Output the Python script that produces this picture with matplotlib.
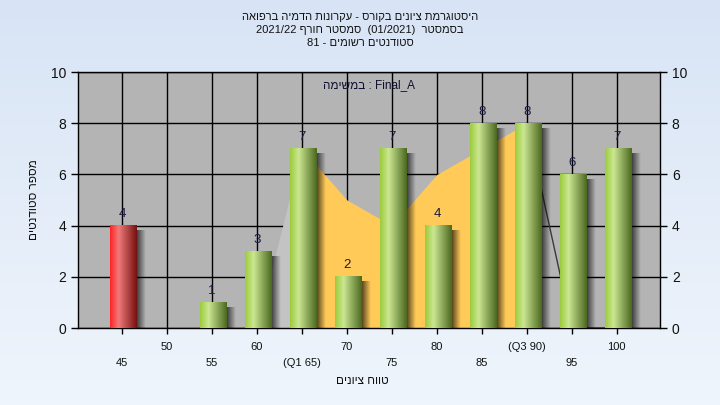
import re
import numpy as np
import matplotlib
matplotlib.use("Agg")
import matplotlib.pyplot as plt
from matplotlib.colors import to_rgb
from matplotlib.transforms import blended_transform_factory

plt.rcParams['font.family'] = ['Liberation Sans', 'DejaVu Sans']

# data
cats = [45, 50, 55, 60, 65, 70, 75, 80, 85, 90, 95, 100]
tick_labels = ['45', '50', '55', '60', '(Q1 65)', '70', '75', '80', '85', '(Q3 90)', '95', '100']
counts = [4, 0, 1, 3, 7, 2, 7, 4, 8, 8, 6, 7]
failed = [45]

lead_cats = [60, 65]
lead_vals = [0, 7]
band_cats = [65, 70, 75, 80, 85, 90]
band_vals = [7, 5, 4, 6, 7, 8]
tail_cats = [90, 95, 100]
tail_vals = [8, 0, 0]

title_lines = ["היסטוגרמת ציונים בקורס - עקרונות הדמיה ברפואה",
               "בסמסטר  (01/2021)  סמסטר חורף 2021/22",
               "סטודנטים רשומים - 81"]
task_text = "במשימה : Final_A"
xlabel = "טווח ציונים"
ylabel = "מספר סטודנטים"

TEXT = '#111111'
GREEN = ['#9ccb3c', '#cbe792', '#4b6820']
RED = ['#ff2424', '#f07a7a', '#761010']


def heb(s):
    # matplotlib has no bidi: flip each run of Hebrew words
    return re.sub(r'[\u0590-\u05FF]+(?:[ \-]+[\u0590-\u05FF]+)*', lambda m: m.group(0)[::-1], s)


def heb_rtl(s):
    # right-to-left line: flip everything, then put number/latin runs back
    return re.sub(r'[0-9A-Za-z_./()]+', lambda m: m.group(0)[::-1], s[::-1])


def cylinder(stops, n=64):
    t = np.linspace(0, 1, n)
    rgb = np.array([to_rgb(c) for c in stops])
    pos = [0, 0.32, 1]
    return np.stack([np.interp(t, pos, rgb[:, k]) for k in range(3)], axis=-1)[None, :, :]


fig = plt.figure(figsize=(7.2, 4.05), dpi=100)

# background gradient
bg = fig.add_axes([0, 0, 1, 1], zorder=-5)
top, bottom = np.array(to_rgb('#d8e4f5')), np.array(to_rgb('#eff5fc'))
grad = np.linspace(0, 1, 100)[:, None, None] * (bottom - top) + top
bg.imshow(grad, aspect='auto', extent=[0, 1, 0, 1], origin='upper')
bg.axis('off')

ax = fig.add_axes([78 / 720, 1 - 328 / 405, (660 - 78) / 720, (328 - 72) / 405])
ax.set_facecolor('#b4b4b4')
ax.set_axisbelow(True)
ax.grid(True, color='black', linewidth=1)

xpos = {c: i for i, c in enumerate(cats)}

ax.fill_between([xpos[c] for c in lead_cats], lead_vals, 0, color='#c3c3c3', linewidth=0, zorder=1)
ax.fill_between([xpos[c] for c in band_cats], band_vals, 0, color='#ffca58', linewidth=0, zorder=1.2)
ax.plot([xpos[c] for c in tail_cats], tail_vals, color='#3a3a3a', linewidth=1, zorder=1.3)

w = 0.6
green_img = cylinder(GREEN)
red_img = cylinder(RED)
shadow = np.zeros((1, 32, 4))
shadow[..., 3] = np.linspace(0.65, 0.0, 32)
for i, (c, v) in enumerate(zip(cats, counts)):
    if v == 0:
        continue
    x0 = i - w / 2 + 0.03
    img = red_img if c in failed else green_img
    ax.imshow(shadow, aspect='auto', extent=[x0 + w, x0 + w + 0.19, 0, v - 0.2], zorder=2)
    ax.imshow(img, aspect='auto', extent=[x0, x0 + w, 0, v], zorder=3)
    ax.text(i, v + 0.22, str(v), ha='center', va='bottom', fontsize=9.5, color='#1a1a40', zorder=4)

ax.set_xlim(-0.98, 11.96)
ax.set_ylim(0, 10)
ax.set_xticks(range(len(cats)))
ax.set_xticklabels([])
ax.set_yticks(range(0, 11, 2))
ax.tick_params(axis='y', left=True, right=True, labelleft=True, labelright=True,
               direction='out', length=5, labelsize=10, labelcolor=TEXT, width=1)
ax.tick_params(axis='x', direction='out', length=4, width=1)
for sp in ax.spines.values():
    sp.set_color('black')
    sp.set_linewidth(1)

# staggered category labels
tr = blended_transform_factory(ax.transData, fig.transFigure)
for i, lab in enumerate(tick_labels):
    y = 1 - (363 if i % 2 == 0 else 347) / 405
    ax.text(i, y, lab, transform=tr, ha='center', va='center', fontsize=8, color=TEXT, clip_on=False)

for k, line in enumerate(title_lines):
    fig.text(0.5, 1 - (17 + 13 * k) / 405, heb_rtl(line), ha='center', va='center', fontsize=8, color=TEXT)

ax.text(0.5, 1 - 13 / 256, heb(task_text), transform=ax.transAxes, ha='center', va='center',
        fontsize=8.5, color='#101030')
fig.text(362 / 720, 1 - 381 / 405, heb(xlabel), ha='center', va='center', fontsize=8.5, color=TEXT)
fig.text(34 / 720, 1 - 200 / 405, heb(ylabel), ha='center', va='center', rotation=90, fontsize=8.5, color=TEXT)

fig.savefig('out.png', dpi=100)
